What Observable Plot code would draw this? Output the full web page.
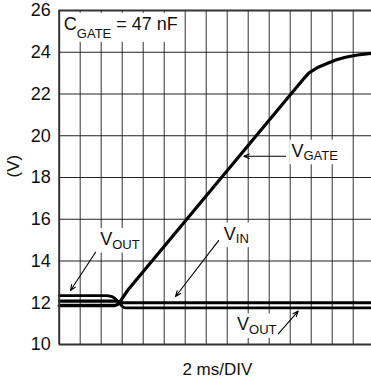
<!DOCTYPE html>
<html><head><meta charset="utf-8">
<script src="https://cdn.jsdelivr.net/npm/d3@7"></script>
<script src="https://cdn.jsdelivr.net/npm/@observablehq/plot@0.6"></script>
<style>
body{margin:0;background:#fff;}
svg text{white-space:pre;}
</style></head><body>
<div id="chart"></div>
<script>
// y ticks (V) and time divisions (2 ms/DIV)
const yTicks = [10, 12, 14, 16, 18, 20, 22, 24, 26];
const divisions = [1, 2, 3, 4, 5, 6, 7, 8, 9, 10, 11, 12, 13, 14];
const xEnd = 14.87;

// V_GATE trace (time in divisions, volts)
const gateT = [0, 2.65, 2.8, 2.9, 3.05, 3.3, 11.6, 11.88, 12.3, 12.84, 13.2, 13.63, 14.2, 14.87];
const gateV = [11.86, 11.86, 11.93, 12.05, 12.28, 12.65, 22.68, 23.0, 23.27, 23.5, 23.64, 23.76, 23.87, 23.95];
// V_OUT trace
const outT = [0, 2.2, 2.52, 2.76, 2.97, 3.15, 14.87];
const outV = [12.34, 12.34, 12.29, 12.1, 11.86, 11.75, 11.75];
// V_IN trace
const inT = [0, 2.7, 3.0, 14.87];
const inV = [12.09, 12.09, 12.0, 12.0];

// annotations
const labelText = ["C_{GATE} = 47 nF", "V_{GATE}", "V_{IN}", "V_{OUT}", "V_{OUT}"];
const labelT = [0.22, 11.06, 7.84, 1.95, 8.47];
const labelV = [25.35, 19.27, 15.3, 15.04, 10.95];
const arrowT1 = [10.78, 7.59, 1.73, 10.43];
const arrowV1 = [19.02, 14.98, 14.42, 10.51];
const arrowT2 = [8.79, 5.54, 0.54, 11.38];
const arrowV2 = [19.02, 12.30, 12.59, 11.6];

const gate = gateT.map((t, i) => ({t, v: gateV[i]}));
const vout = outT.map((t, i) => ({t, v: outV[i]}));
const vin = inT.map((t, i) => ({t, v: inV[i]}));
const labels = labelText.map((s, i) => ({s, t: labelT[i], v: labelV[i]}));
const arrows = arrowT1.map((t, i) => ({t1: t, v1: arrowV1[i], t2: arrowT2[i], v2: arrowV2[i]}));

const yMin = yTicks[0], yMax = yTicks[yTicks.length - 1];

const svg = Plot.plot({
  width: 371, height: 381,
  marginLeft: 58.7, marginRight: 0, marginTop: 10, marginBottom: 37,
  x: {domain: [0, xEnd], axis: null},
  y: {domain: [yMin, yMax], ticks: yTicks, tickSize: 0, tickPadding: 8.5, label: null, tickFormat: d => String(d)},
  style: {fontFamily: "'Liberation Sans', Arial, sans-serif", fontSize: "18px", background: "#fff", color: "#111"},
  marks: [
    Plot.ruleX(divisions, {stroke: "#444", strokeWidth: 1.1}),
    Plot.ruleY(yTicks.slice(1, -1), {stroke: "#222", strokeWidth: 1.1}),
    Plot.text(labels, {x: "t", y: "v", text: "s", textAnchor: "start", lineAnchor: "middle", fontSize: 18, fill: "#111"}),
    Plot.line(vin, {x: "t", y: "v", stroke: "#000", strokeWidth: 2.8, curve: "monotone-x"}),
    Plot.line(vout, {x: "t", y: "v", stroke: "#000", strokeWidth: 2.8, curve: "monotone-x"}),
    Plot.line(gate, {x: "t", y: "v", stroke: "#000", strokeWidth: 3.2, curve: "linear"}),
    Plot.arrow(arrows, {x1: "t1", y1: "v1", x2: "t2", y2: "v2", stroke: "#000", strokeWidth: 1.1, headLength: 8, headAngle: 45}),
    Plot.ruleX([0], {stroke: "#333", strokeWidth: 2}),
    Plot.ruleY([yMin], {stroke: "#333", strokeWidth: 2}),
    Plot.ruleY([yMax], {stroke: "#333", strokeWidth: 2.2}),
    Plot.text(["(V)"], {frameAnchor: "left", rotate: -90, dx: -46, fontSize: 17, fill: "#111"}),
    Plot.text(["2 ms/DIV"], {frameAnchor: "bottom", dy: 25, dx: 2, lineAnchor: "middle", fontSize: 17, fill: "#111"})
  ]
});
document.getElementById("chart").append(svg);

// subscripts and white label boxes
d3.select(svg).selectAll("text").each(function () {
  const s = this.textContent;
  if (!s.includes("_{")) return;
  const shift = s.startsWith("C") ? 8 : 3.5;
  const parts = s.split(/(_\{[^}]*\})/);
  this.textContent = "";
  let off = 0;
  for (const p of parts) {
    if (!p) continue;
    const sub = p.startsWith("_{");
    const ts = d3.select(this).append("tspan").text(sub ? p.slice(2, -1) : p);
    if (sub) { ts.attr("font-size", 13).attr("dy", shift - off); off = shift; }
    else if (off) { ts.attr("dy", -off); off = 0; }
  }
  const b = this.getBBox();
  const pad = 2;
  const r = document.createElementNS("http://www.w3.org/2000/svg", "rect");
  r.setAttribute("x", b.x - pad); r.setAttribute("y", b.y - pad + 1);
  r.setAttribute("width", b.width + 2 * pad); r.setAttribute("height", b.height + 2 * pad - 2);
  r.setAttribute("fill", "#fff");
  const tr = this.getAttribute("transform");
  if (tr) r.setAttribute("transform", tr);
  this.parentNode.insertBefore(r, this);
});
</script>
</body></html>
